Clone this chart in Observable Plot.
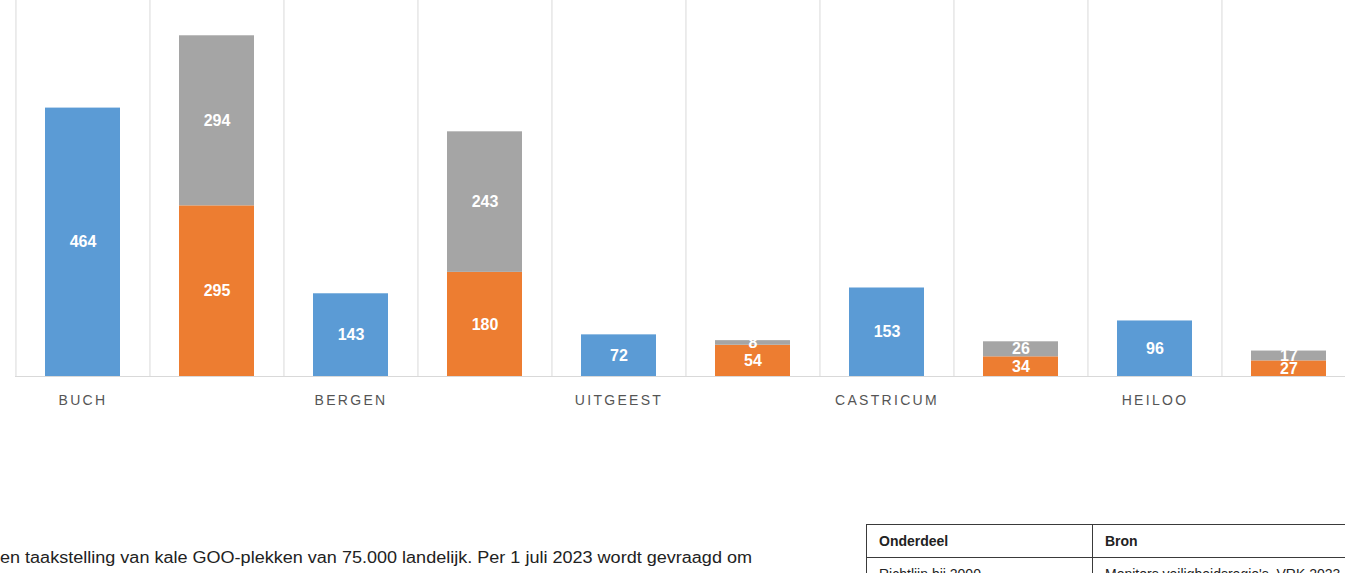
<!DOCTYPE html>
<html>
<head>
<meta charset="utf-8">
<script src="https://cdn.jsdelivr.net/npm/d3@7"></script>
<script src="https://cdn.jsdelivr.net/npm/@observablehq/plot@0.6"></script>
<style>
  html, body { margin: 0; padding: 0; background: #fff; }
  #page { position: relative; width: 1345px; height: 573px; overflow: hidden; background: #fff; }
  #chart { position: absolute; left: 0; top: 0; width: 1360px; }
  #chart svg { overflow: visible; max-width: none !important; }
  #chart [aria-label="x-axis tick label"] text { letter-spacing: 2.3px; }
  #para { position: absolute; left: 0; top: 549px; white-space: nowrap; font-family: "Liberation Sans", sans-serif; font-size: 16px; color: #222; transform-origin: 0 0; }
  #tbl { position: absolute; left: 866px; top: 524px; width: 700px; table-layout: fixed; border-collapse: collapse; font-family: "Liberation Sans", sans-serif; font-size: 14px; color: #222; }
  #tbl td { border: 1.5px solid #3a3a3a; padding: 0 12px; height: 32px; vertical-align: middle; white-space: nowrap; overflow: hidden; }
  #tbl tr.h td { font-weight: bold; }
</style>
</head>
<body>
<div id="page">
  <div id="chart"></div>
  <div id="para">en taakstelling van kale GOO-plekken van 75.000 landelijk. Per 1 juli 2023 wordt gevraagd om</div>
  <table id="tbl">
    <colgroup><col style="width:226px"><col style="width:474px"></colgroup>
    <tr class="h"><td>Onderdeel</td><td>Bron</td></tr>
    <tr><td>Richtlijn bij 2000</td><td>Monitors veiligheidsregio's, VRK 2023</td></tr>
  </table>
</div>
<script>
// ---- data ----
const municipalities = ["BUCH", "BERGEN", "UITGEEST", "CASTRICUM", "HEILOO"];
const blueValues   = [464, 143, 72, 153, 96];
const orangeValues = [295, 180, 54, 34, 27];
const grayValues   = [294, 243, 8, 26, 17];
const seriesNames  = ["reeks A", "reeks B", "reeks C"];
const seriesColors = ["#5b9bd5", "#ed7d31", "#a5a5a5"];

// columns: each municipality has two columns
const columns = municipalities.flatMap(m => [m + "|1", m + "|2"]);
const rows = [];
municipalities.forEach((m, i) => {
  rows.push({col: m + "|1", series: seriesNames[0], value: blueValues[i]});
  rows.push({col: m + "|2", series: seriesNames[1], value: orangeValues[i]});
  rows.push({col: m + "|2", series: seriesNames[2], value: grayValues[i]});
});

const width = 1360, marginLeft = 15, marginRight = 4;
const step = (width - marginLeft - marginRight) / columns.length;

const chart = Plot.plot({
  width,
  height: 420,
  marginTop: 0,
  marginBottom: 44,
  marginLeft,
  marginRight,
  style: {fontFamily: "Liberation Sans, sans-serif", background: "transparent", maxWidth: "none"},
  x: {domain: columns, paddingInner: 0.44, paddingOuter: 0.22, axis: null, label: null},
  y: {domain: [0, 650], axis: null},
  color: {type: "ordinal", domain: seriesNames, range: seriesColors},
  marks: [
    Plot.ruleX(columns, {x: d => d, dx: -step / 2, stroke: "#d9d9d9", strokeWidth: 1}),
    Plot.ruleX([columns[columns.length - 1]], {x: d => d, dx: step / 2, stroke: "#d9d9d9", strokeWidth: 1}),
    Plot.ruleY([0], {stroke: "#d9d9d9", strokeWidth: 1.2}),
    Plot.barY(rows, Plot.stackY({x: "col", y: "value", fill: "series", order: null})),
    Plot.text(rows, Plot.stackY({x: "col", y: "value", text: d => String(d.value), order: null,
      fill: "white", fontWeight: "bold", fontSize: 16})),
    Plot.axisX({
      label: null,
      tickSize: 0, tickPadding: 19, fontSize: 14, fill: "#555",
      tickFormat: d => d.endsWith("|1") ? d.split("|")[0] : ""
    })
  ]
});
document.getElementById("chart").appendChild(chart);

// fit paragraph width to the reference line length
const para = document.getElementById("para");
const w = para.getBoundingClientRect().width;
para.style.transform = `scaleX(${752 / w})`;
</script>
</body>
</html>
